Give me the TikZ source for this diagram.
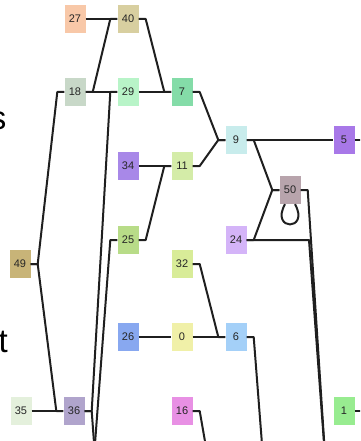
\documentclass[tikz,border=0pt]{standalone}
\usepackage{fontspec}
\setmainfont{Liberation Sans}
\usetikzlibrary{calc}
\definecolor{c27}{HTML}{F8C8A8}
\definecolor{c40}{HTML}{D8CFA0}
\definecolor{c18}{HTML}{C8D8C8}
\definecolor{c29}{HTML}{B8F4C8}
\definecolor{c7}{HTML}{84DCA8}
\definecolor{c9}{HTML}{C8ECEC}
\definecolor{c5}{HTML}{A878E8}
\definecolor{c34}{HTML}{A888E8}
\definecolor{c11}{HTML}{D4ECA8}
\definecolor{c25}{HTML}{B8DC88}
\definecolor{c49}{HTML}{C8B478}
\definecolor{c32}{HTML}{D8EC98}
\definecolor{c50}{HTML}{B8A4AC}
\definecolor{c24}{HTML}{D4B4F8}
\definecolor{c26}{HTML}{88A8F0}
\definecolor{c0}{HTML}{F0F0A8}
\definecolor{c6}{HTML}{A4D0F8}
\definecolor{c35}{HTML}{E4F0DC}
\definecolor{c36}{HTML}{B0A4CC}
\definecolor{c16}{HTML}{E890E4}
\definecolor{c1}{HTML}{98EC90}
\newcommand\edg[2]{\draw[ed] (#1.east) -- ++(7,0) -- ($(#2.west)+(-7,0)$) -- (#2.west);}
\begin{document}
\begin{tikzpicture}[x=1pt,y=-1pt,
 nd/.style={minimum width=21pt,minimum height=28pt,inner sep=0pt,font=\fontsize{11}{12}\selectfont,text=black!85},
 ed/.style={draw=black!88,line width=2pt,line join=round},
 big/.style={inner sep=0pt,font=\fontsize{33}{36}\selectfont}]
\useasboundingbox (0,0) rectangle (360,441);
\clip (0,0) rectangle (360,441);
\node[big,anchor=base east] (ts) at (6.5,129) {s};
\node[big,anchor=base east] (tt) at (8,352) {t};
\node[nd,fill=c27] (n27) at (75,19) {27};
\node[nd,fill=c40] (n40) at (128,19) {40};
\node[nd,fill=c18] (n18) at (75,92) {18};
\node[nd,fill=c29] (n29) at (128,92) {29};
\node[nd,fill=c7] (n7) at (182,92) {7};
\node[nd,fill=c9] (n9) at (236,140) {9};
\node[nd,fill=c5] (n5) at (344,140) {5};
\node[nd,fill=c34] (n34) at (128,166) {34};
\node[nd,fill=c11] (n11) at (182,166) {11};
\node[nd,fill=c25] (n25) at (128,240) {25};
\node[nd,fill=c49] (n49) at (20,264) {49};
\node[nd,fill=c32] (n32) at (182,264) {32};
\node[nd,fill=c50] (n50) at (290,190) {50};
\node[nd,fill=c24] (n24) at (236,240) {24};
\node[nd,fill=c26] (n26) at (128,337) {26};
\node[nd,fill=c0] (n0) at (182,337) {0};
\node[nd,fill=c6] (n6) at (236,337) {6};
\node[nd,fill=c35] (n35) at (21,411) {35};
\node[nd,fill=c36] (n36) at (74,411) {36};
\node[nd,fill=c16] (n16) at (182,411) {16};
\node[nd,fill=c1] (n1) at (344,411) {1};
\coordinate (oT) at (326,470);
\coordinate (o6) at (264,470);
\coordinate (o16) at (210,470);
\coordinate (o36) at (96,470);
\coordinate (o25) at (93,470);
\coordinate (o5) at (366,140);
\coordinate (o1) at (366,411);
\coordinate (k24) at (309,240);
\edg{n27}{n40}
\edg{n18}{n40}
\edg{n40}{n7}
\edg{n18}{n29}
\edg{n29}{n7}
\edg{n49}{n18}
\edg{n49}{n36}
\edg{n35}{n36}
\edg{n36}{n29}
\edg{n34}{n11}
\edg{n25}{n11}
\edg{n7}{n9}
\edg{n11}{n9}
\edg{n9}{n5}
\edg{n9}{n50}
\edg{n24}{n50}
\edg{n32}{n6}
\edg{n26}{n0}
\edg{n0}{n6}
\draw[ed] (n24.east) -- (k24) -- (oT);
\draw[ed] (n50.east) -- ++(7,0) -- (oT);
\draw[ed] (n6.east) -- ++(7,0) -- (o6);
\draw[ed] (n16.east) -- ++(7,0) -- (o16);
\draw[ed] (n36.east) -- ++(7,0) -- (o36);
\draw[ed] (o25) -- ($(n25.west)+(-7,0)$) -- (n25.west);
\draw[ed] (n5.east) -- (o5);
\draw[ed] (n1.east) -- (o1);
\draw[ed] ([xshift=-5pt]n50.south) .. controls +(-15,27) and +(15,27) .. ([xshift=5pt]n50.south);
\end{tikzpicture}
\end{document}
